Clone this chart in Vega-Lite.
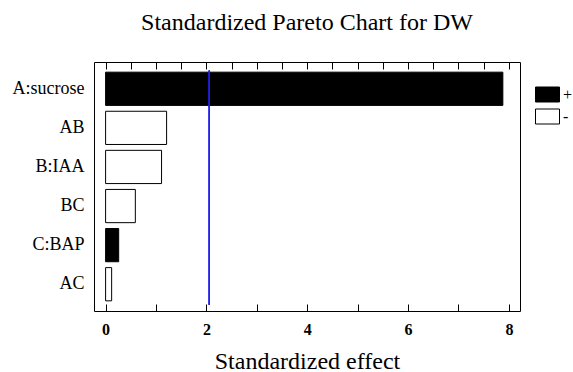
{
  "$schema": "https://vega.github.io/schema/vega-lite/v6.json",
  "autosize": "none",
  "width": 426,
  "height": 249,
  "padding": {"top": 62, "left": 94, "right": 53, "bottom": 61},
  "background": "white",
  "config": {
    "view": {"stroke": "black", "strokeWidth": 1},
    "font": "Times New Roman, Liberation Serif, serif"
  },
  "title": {
    "text": "Standardized Pareto Chart for DW",
    "font": "Times New Roman, Liberation Serif, serif",
    "fontSize": 24,
    "fontWeight": "normal",
    "anchor": "middle",
    "frame": "group",
    "baseline": "bottom",
    "offset": 3,
    "color": "black"
  },
  "data": {
    "values": [
      {"term": "A:sucrose", "effect": 7.88, "sign": "+"},
      {"term": "AB", "effect": 1.21, "sign": "-"},
      {"term": "B:IAA", "effect": 1.11, "sign": "-"},
      {"term": "BC", "effect": 0.59, "sign": "-"},
      {"term": "C:BAP", "effect": 0.26, "sign": "+"},
      {"term": "AC", "effect": 0.12, "sign": "-"}
    ]
  },
  "resolve": {"axis": {"x": "independent"}},
  "layer": [
    {
      "mark": {"type": "bar", "stroke": "black", "strokeWidth": 1},
      "encoding": {
        "y": {
          "field": "term",
          "type": "nominal",
          "sort": null,
          "scale": {"paddingInner": 0.15, "paddingOuter": 0.26},
          "axis": {
            "title": null,
            "ticks": false,
            "tickSize": 0,
            "domain": false,
            "labelPadding": 10,
            "labelFont": "Times New Roman, Liberation Serif, serif",
            "labelFontSize": 18,
            "labelColor": "black"
          }
        },
        "x": {
          "field": "effect",
          "type": "quantitative",
          "scale": {"domain": [-0.23, 8.22], "nice": false, "zero": false},
          "axis": {
            "orient": "bottom",
            "title": "Standardized effect",
            "titleFont": "Times New Roman, Liberation Serif, serif",
            "titleFontSize": 24,
            "titleFontWeight": "normal",
            "titleColor": "black",
            "titlePadding": 12,
            "values": [0, 0.5, 1, 1.5, 2, 2.5, 3, 3.5, 4, 4.5, 5, 5.5, 6, 6.5, 7, 7.5, 8],
            "format": "d",
            "labelExpr": "datum.value % 2 === 0 ? datum.label : ''",
            "labelOverlap": false,
            "labelFont": "Times New Roman, Liberation Serif, serif",
            "labelFontSize": 16,
            "labelFontWeight": "bold",
            "labelColor": "black",
            "labelPadding": 17,
            "domain": false,
            "grid": false,
            "tickSize": -7,
            "tickColor": "black",
            "encode": {
              "ticks": {"update": {"y2": {"signal": "datum.value % 2 === 0 ? -7 : -3"}}}
            }
          }
        },
        "color": {
          "field": "sign",
          "type": "nominal",
          "scale": {"domain": ["+", "-"], "range": ["black", "white"]},
          "legend": {
            "title": null,
            "orient": "none",
            "legendX": 441,
            "legendY": 20,
            "symbolType": "M-1,-0.625H1V0.625H-1Z",
            "symbolSize": 576,
            "symbolStrokeColor": "black",
            "symbolStrokeWidth": 1,
            "symbolOpacity": 1,
            "labelFont": "Times New Roman, Liberation Serif, serif",
            "labelFontSize": 16,
            "labelColor": "black",
            "rowPadding": -2,
            "labelOffset": 3
          }
        }
      }
    },
    {
      "mark": {"type": "rule", "color": "#2020f0", "strokeWidth": 1},
      "encoding": {
        "x": {
          "datum": 2.056,
          "type": "quantitative",
          "axis": {
            "orient": "top",
            "title": null,
            "labels": false,
            "minExtent": 0,
            "maxExtent": 0,
            "values": [0, 0.5, 1, 1.5, 2, 2.5, 3, 3.5, 4, 4.5, 5, 5.5, 6, 6.5, 7, 7.5, 8],
            "domain": false,
            "grid": false,
            "tickSize": -7,
            "tickColor": "black",
            "encode": {
              "ticks": {"update": {"y2": {"signal": "datum.value % 2 === 0 ? 7 : 3"}}}
            }
          }
        },
        "y": {"datum": "A:sucrose", "type": "nominal", "bandPosition": -0.05},
        "y2": {"datum": "AC", "bandPosition": 1.12}
      }
    }
  ]
}
